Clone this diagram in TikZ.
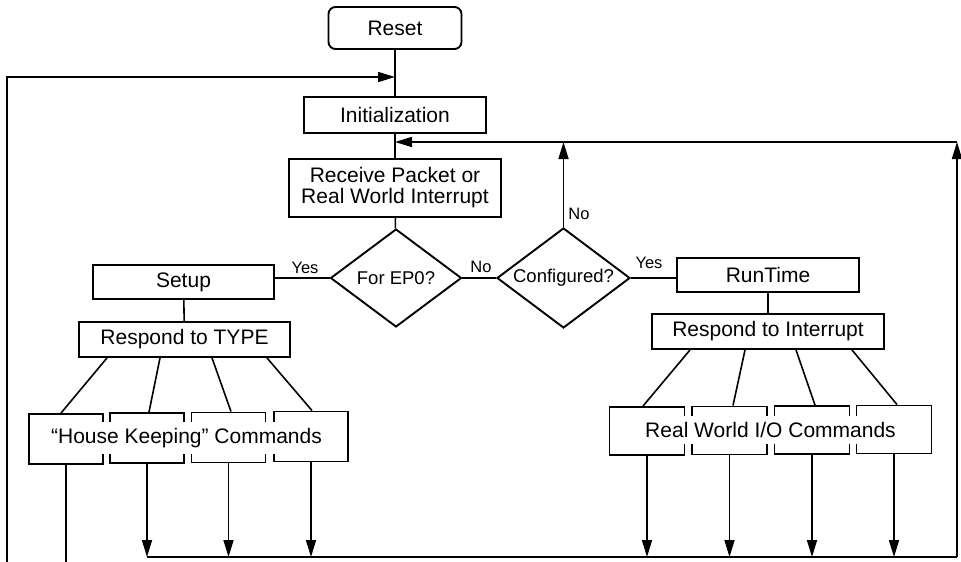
\documentclass[tikz,border=0pt]{standalone}
\usepackage{fontspec}
\setmainfont{Liberation Sans}
\usetikzlibrary{arrows.meta,shapes.geometric}
\newcommand{\bxfont}{\fontsize{21}{21}\selectfont}
\newcommand{\dmfont}{\fontsize{18.5}{20}\selectfont}
\newcommand{\lbfont}{\fontsize{16.5}{18}\selectfont}
\begin{document}
\begin{tikzpicture}[x=1pt,y=-1pt,line width=1.6pt,
  stepbox/.style={draw,rectangle,line width=1.9pt,inner sep=0pt,font=\bxfont,align=center},
  decision/.style={draw,diamond,aspect=1.33,line width=1.9pt,inner sep=0pt,font=\dmfont},
  cmdbox/.style={draw,rectangle,line width=1.9pt,inner sep=0pt,minimum width=74,minimum height=50},
  cmdtext/.style={fill=white,inner xsep=1pt,inner ysep=6pt,font=\bxfont},
  lbl/.style={inner sep=0pt,font=\lbfont},
  arr/.style={-{Triangle[length=17pt,width=10pt]}}]
\useasboundingbox (0,0) rectangle (961,562);

% main spine
\node[stepbox,rounded corners=7pt,minimum width=133,minimum height=42] (reset) at (395,28) {Reset};
\node[stepbox,minimum width=182,minimum height=36] (init) at (395,115) {Initialization};
\node[stepbox,minimum width=212,minimum height=58] (recv) at (395,188) {Receive Packet or\\Real World Interrupt};
\node[decision,minimum width=131,minimum height=98] (ep0) at (396,278) {For EP0?};
\node[decision,minimum width=133,minimum height=100] (conf) at (563.5,278) {Configured?};

% setup branch
\node[stepbox,minimum width=181,minimum height=34] (setup) at (183.5,282) {Setup};
\node[stepbox,minimum width=211,minimum height=35] (rtype) at (184.5,339.5) {Respond to TYPE};
\node[cmdbox] (hk1) at (66,439) {};
\node[cmdbox] (hk2) at (147,438) {};
\node[cmdbox] (hk3) at (228.5,437.5) {};
\node[cmdbox] (hk4) at (311,436.5) {};
\node[cmdtext] (hktext) at (186.5,438) {“House Keeping” Commands};

% runtime branch
\node[stepbox,minimum width=182,minimum height=34] (runtime) at (768,275) {RunTime};
\node[stepbox,minimum width=232,minimum height=35] (rint) at (768,331.5) {Respond to Interrupt};
\node[cmdbox,minimum width=75,minimum height=48] (rw1) at (647,431) {};
\node[cmdbox,minimum width=75,minimum height=48] (rw2) at (729.5,430.5) {};
\node[cmdbox,minimum width=75,minimum height=48] (rw3) at (812,430) {};
\node[cmdbox,minimum width=75,minimum height=48] (rw4) at (894,429.5) {};
\node[cmdtext] (rwtext) at (770.5,430) {Real World I/O Commands};

% loop corners
\coordinate (bl0) at (7,562);
\coordinate (tl) at (7,77);
\coordinate (br) at (957,557);
\coordinate (tr) at (957,142);

% spine connectors
\draw (reset) -- (init);
\draw (init) -- (recv);
\draw (recv) -- (ep0);

% decisions
\draw (ep0.west) -- (ep0.west -| setup.east);
\node[lbl] (yes1) at (305,268) {Yes};
\draw (ep0.east) -- (conf.west);
\node[lbl] (no1) at (481,267) {No};
\draw (conf.east) -- (conf.east -| runtime.west);
\node[lbl] (yes2) at (649,263) {Yes};
\draw[arr] (conf.north) -- (conf.north |- tr);
\node[lbl] (no2) at (579,214) {No};

% setup fan-out
\draw (setup) -- (rtype);
\draw ([xshift=-77.5]rtype.south) -- ([xshift=-5]hk1.north);
\draw ([xshift=-24.5]rtype.south) -- ([xshift=2]hk2.north);
\draw ([xshift=27.5]rtype.south) -- ([xshift=2.5]hk3.north);
\draw ([xshift=82.5]rtype.south) -- ([xshift=1]hk4.north);

% runtime fan-out
\draw (runtime) -- (rint);
\draw ([xshift=-78]rint.south) -- ([xshift=-4]rw1.north);
\draw ([xshift=-23]rint.south) -- ([xshift=3.5]rw2.north);
\draw ([xshift=28]rint.south) -- ([xshift=3]rw3.north);
\draw ([xshift=84]rint.south) -- ([xshift=3]rw4.north);

% returns to the bottom bus
\draw (hk1.south) -- (hk1.south |- bl0);
\draw[arr] (hk2.south) -- (hk2.south |- br);
\draw[arr] (hk3.south) -- (hk3.south |- br);
\draw[arr] (hk4.south) -- (hk4.south |- br);
\draw[arr] (rw1.south) -- (rw1.south |- br);
\draw[arr] (rw2.south) -- (rw2.south |- br);
\draw[arr] (rw3.south) -- (rw3.south |- br);
\draw[arr] (rw4.south) -- (rw4.south |- br);
\draw (hk2.south |- br) -- (br);

% loops back to the top
\draw[arr] (br) -- (tr);
\draw[arr] (tr) -- (tr -| init.south);
\draw[arr] (bl0) -- (tl) -- (tl -| reset.south);
\end{tikzpicture}
\end{document}
